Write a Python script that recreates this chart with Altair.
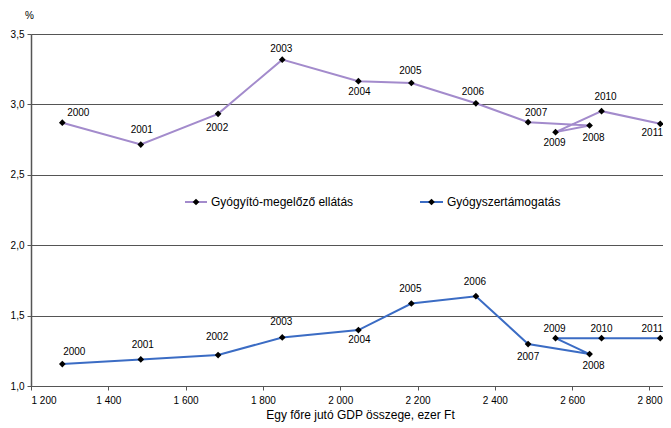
import altair as alt
import pandas as pd

years = [str(y) for y in range(2000, 2012)]
gdp = [1281, 1484, 1684, 1850, 2047, 2184, 2351, 2486, 2645, 2557, 2676, 2828]
gyogyito = [2.87, 2.715, 2.933, 3.318, 3.165, 3.152, 3.008, 2.874, 2.850, 2.803, 2.952, 2.862]
gyogyszer = [1.156, 1.189, 1.22, 1.345, 1.397, 1.586, 1.638, 1.298, 1.227, 1.34, 1.34, 1.34]
series_names = ["Gyógyító-megelőző ellátás", "Gyógyszertámogatás"]
series_colors = ["#a38bcc", "#3b6cc4"]

# label placement (style): pixel offsets of each year label from its point
label_off_1 = [(16, -10), (1, -15), (-1, 14), (-1, -11), (1, 11), (-1, -12),
               (-3, -11), (8, -9), (4, 12), (-1, 11), (4, -14), (-8, 9)]
label_off_2 = [(12, -12), (2, -14), (-1, -18), (-1, -15), (1, 10), (-1, -14),
               (-1, -14), (0, 13), (4, 12), (-1, -9), (0, -9), (-8, -9)]

rows = []
for i, y in enumerate(years):
    rows.append({"year": y, "gdp": gdp[i], "value": gyogyito[i], "series": series_names[0],
                 "order": i, "idx": i})
    rows.append({"year": y, "gdp": gdp[i], "value": gyogyszer[i], "series": series_names[1],
                 "order": i, "idx": i})
df = pd.DataFrame(rows)

FONT = "Liberation Sans"

x_enc = alt.X("gdp:Q", scale=alt.Scale(domain=[1200, 2835], nice=False, zero=False),
              axis=alt.Axis(values=list(range(1200, 2801, 200)),
                            labelExpr="replace(format(datum.value, ','), ',', ' ')",
                            title="Egy főre jutó GDP összege, ezer Ft",
                            grid=False, domainColor="#555555", tickColor="#555555",
                            tickSize=4, labelPadding=5, labelFontSize=10, labelColor="#000000",
                            titleFontSize=12, titleFontWeight="normal", titleColor="#000000",
                            titlePadding=4, titleX=329, labelFont=FONT, titleFont=FONT))
y_enc = alt.Y("value:Q", scale=alt.Scale(domain=[1.0, 3.5], nice=False, zero=False),
              axis=alt.Axis(values=[1.0, 1.5, 2.0, 2.5, 3.0, 3.5],
                            labelExpr="replace(format(datum.value, '.1f'), '.', ',')",
                            title="%", titleAngle=0, titleX=-2, titleY=-19,
                            titleAlign="center", titleBaseline="middle",
                            titleFontSize=10, titleFontWeight="normal", titleColor="#000000",
                            grid=True, gridColor="#555555", gridWidth=1.2,
                            domainColor="#555555", domainWidth=1.5, tickColor="#555555",
                            tickSize=4, labelPadding=3, labelFontSize=10, labelColor="#000000",
                            labelFont=FONT, titleFont=FONT))

color = alt.Color("series:N", scale=alt.Scale(domain=series_names, range=series_colors), legend=None)

base = alt.Chart(df)
lines = base.mark_line(strokeWidth=2).encode(x=x_enc, y=y_enc, color=color, order="order:Q",
                                             detail="series:N")
points = base.mark_point(shape="diamond", filled=True, size=45, color="#000000", opacity=1).encode(
    x="gdp:Q", y="value:Q")

layers = [lines, points]
for s_i, offs in enumerate([label_off_1, label_off_2]):
    for i, (dx, dy) in enumerate(offs):
        layers.append(
            base.transform_filter(
                (alt.datum.series == series_names[s_i]) & (alt.datum.idx == i)
            ).mark_text(dx=dx, dy=dy, fontSize=10, font=FONT, color="#000000",
                        align="center", baseline="middle").encode(
                x="gdp:Q", y="value:Q", text="year:N")
        )

# manual legend
leg = pd.DataFrame({"series": series_names})
leg_x = [(154, 176), (389, 412)]
leg_y = 168
for k, (x1, x2) in enumerate(leg_x):
    sub = alt.Chart(leg).transform_filter(alt.datum.series == series_names[k])
    layers.append(sub.mark_rule(strokeWidth=2, color=series_colors[k]).encode(
        x=alt.value(x1), x2=alt.value(x2), y=alt.value(leg_y)))
    layers.append(sub.mark_point(shape="diamond", filled=True, size=45, color="#000000",
                                 opacity=1).encode(
        x=alt.value((x1 + x2) / 2), y=alt.value(leg_y)))
    layers.append(sub.mark_text(align="left", baseline="middle", fontSize=12, font=FONT,
                                color="#000000").encode(
        x=alt.value(x2 + 4), y=alt.value(leg_y), text="series:N"))

chart = alt.layer(*layers).properties(
    width=632, height=352,
    autosize=alt.AutoSizeParams(type="none"),
    padding={"left": 23, "top": 26, "right": 0, "bottom": 41},
).configure_view(stroke=None).configure(background="#ffffff")

chart.save("out.html", embed_options={"renderer": "svg", "actions": False})
